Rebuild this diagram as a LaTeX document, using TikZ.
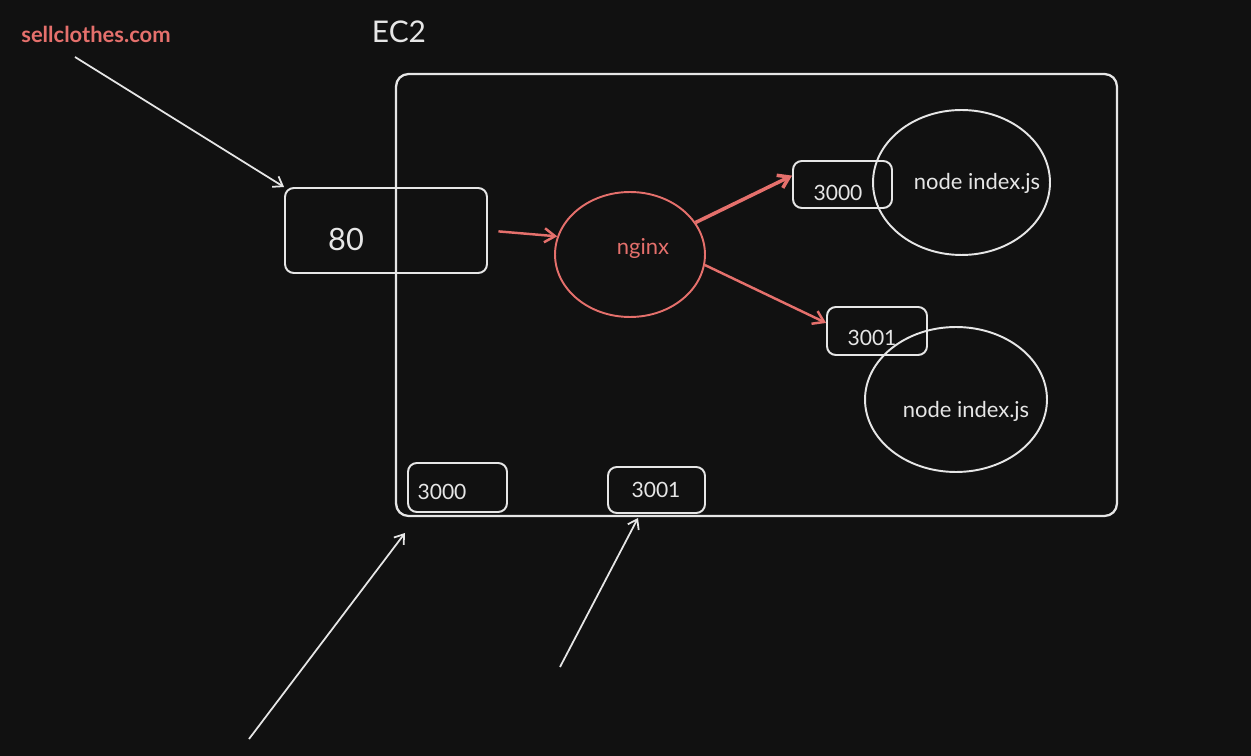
\documentclass[tikz,border=0pt]{standalone}
\usepackage{fontspec}
\setmainfont{Lato}
\usetikzlibrary{shapes.geometric,arrows.meta}
\definecolor{board}{HTML}{111111}
\definecolor{chalk}{HTML}{E6E6E6}
\definecolor{salmon}{HTML}{E5706C}
\begin{document}
\begin{tikzpicture}[x=0.02cm,y=-0.02cm,
        wire/.style={draw=chalk,line width=1pt,-{Straight Barb[length=5pt,width=7pt]}},
        hot/.style={draw=salmon,line width=1.4pt,-{Straight Barb[length=6pt,width=8pt]}},
        portbox/.style={draw=chalk,line width=1.1pt,rounded corners=5pt,inner sep=0pt},
        proc/.style={draw=chalk,line width=1.1pt,ellipse,inner sep=0pt},
        txt/.style={text=chalk,inner sep=0pt,font=\fontsize{12}{14}\selectfont}]
    \fill [board] (0,0) rectangle (1251,756);
    \node [txt,text=salmon,font=\fontsize{12.5}{15}\selectfont\bfseries] (site) at (96,34) {sellclothes.com};
    \node [txt,font=\fontsize{17}{20}\selectfont] (ec2lbl) at (399,32) {EC2};
    \node [portbox,line width=1.3pt,rounded corners=7pt,minimum width=14.42cm,minimum height=8.84cm] (ec2) at (756.5,295) {};
    \node [portbox,minimum width=4.04cm,minimum height=1.7cm] (p80) at (386,230.5) {};
    \node [txt,font=\fontsize{17.5}{20}\selectfont] (t80) at (346,239) {80};
    \node [proc,draw=salmon,minimum width=3cm,minimum height=2.5cm] (nginx) at (630,254.5) {};
    \node [txt,text=salmon,font=\fontsize{12.5}{15}\selectfont] (tnginx) at (643,248) {nginx};
    \node [proc,minimum width=3.54cm,minimum height=2.9cm] (app1) at (961.5,182.5) {};
    \node [proc,minimum width=3.64cm,minimum height=2.9cm] (app2) at (956,399.5) {};
    \node [txt,font=\fontsize{12.5}{15}\selectfont] (tapp1) at (977,183) {node index.js};
    \node [txt,font=\fontsize{12.5}{15}\selectfont] (tapp2) at (966,411) {node index.js};
    \node [portbox,minimum width=1.98cm,minimum height=0.94cm] (b3000) at (842.5,184.5) {};
    \node [txt] (t3000) at (838,193) {3000};
    \node [portbox,minimum width=2cm,minimum height=0.96cm] (b3001) at (877,331) {};
    \node [txt] (t3001) at (872,338) {3001};
    \node [portbox,minimum width=1.98cm,minimum height=0.98cm] (q3000) at (457.5,487.5) {};
    \node [txt] (s3000) at (442,492) {3000};
    \node [portbox,minimum width=1.94cm,minimum height=0.92cm] (q3001) at (656.5,490) {};
    \node [txt] (s3001) at (656,490) {3001};
    \coordinate (web) at (75,57);
    \coordinate (ext1) at (249,739);
    \coordinate (ext1e) at (405,533);
    \coordinate (ext2) at (560,667);
    \coordinate (ext2e) at (638,518);
    \draw [wire] (web) -- (p80.north west);
    \draw [hot,shorten <=6pt] (p80.east) -- (nginx.166);
    \draw [hot,line width=2pt] (nginx.26) -- (b3000.170);
    \draw [hot] (nginx.-8) -- (b3001.171);
    \draw [wire] (ext1) -- (ext1e);
    \draw [wire] (ext2) -- (ext2e);
\end{tikzpicture}
\end{document}
